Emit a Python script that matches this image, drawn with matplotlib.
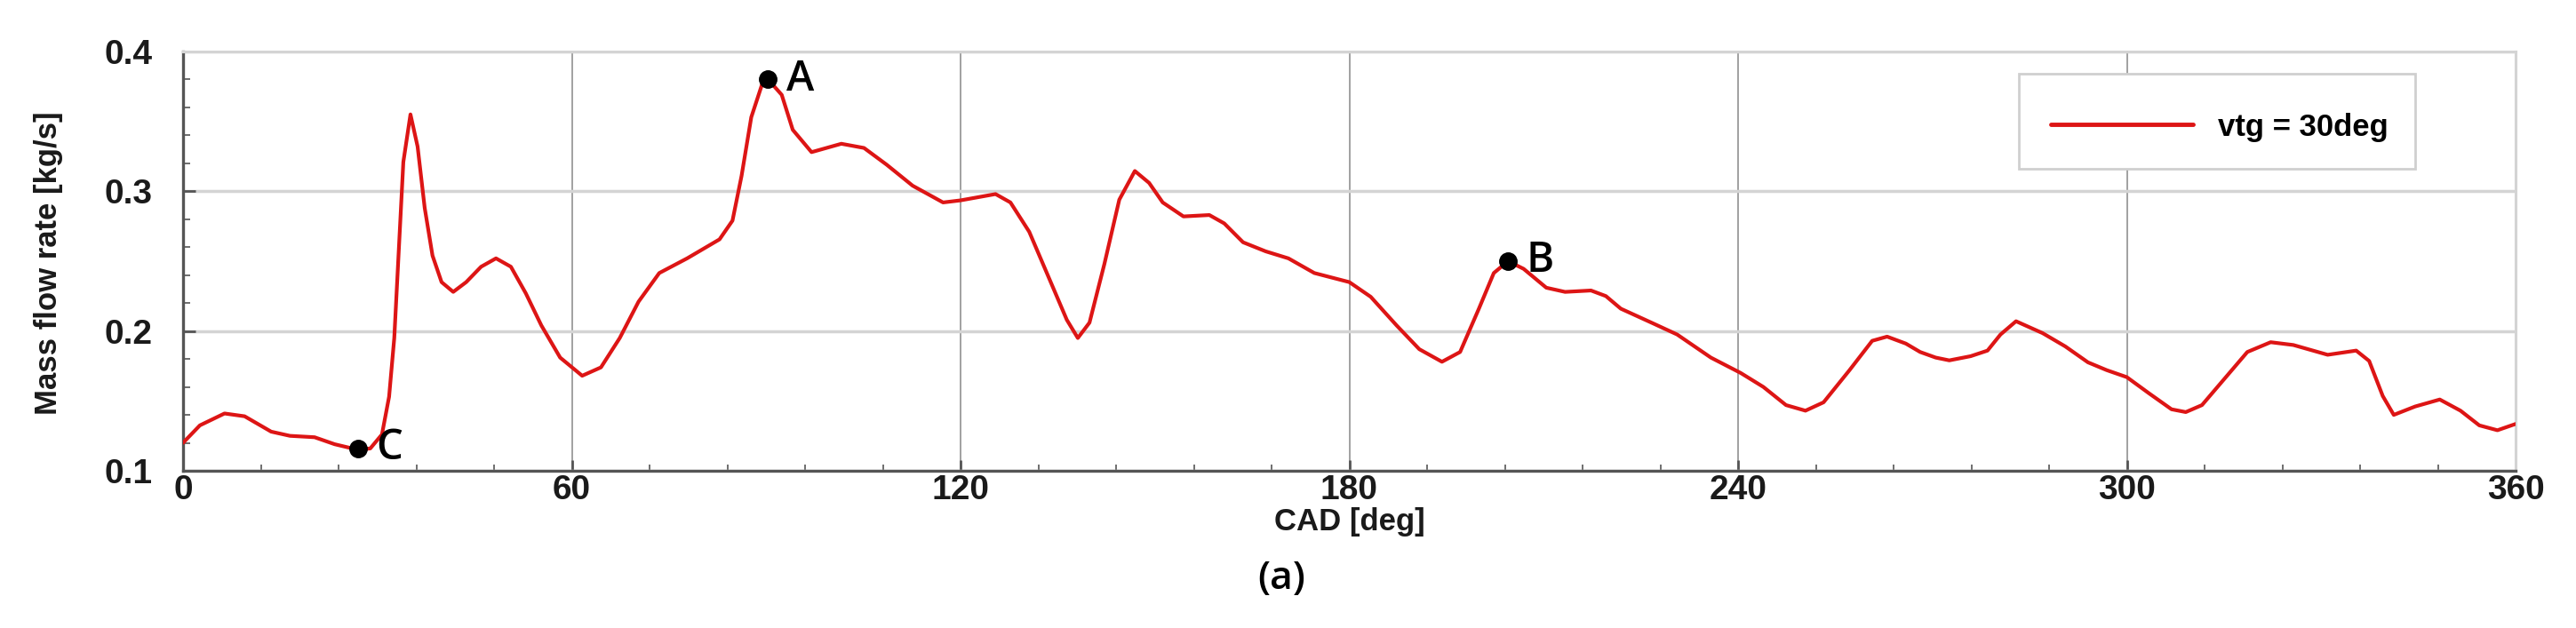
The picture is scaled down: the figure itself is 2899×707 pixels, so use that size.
import matplotlib
matplotlib.use("Agg")
import matplotlib.pyplot as plt
from matplotlib.ticker import MultipleLocator, FormatStrFormatter
from matplotlib.patches import Rectangle

# ---- data ----
cad = [0, 2.6, 6.4, 9.5, 13.6, 16.5, 20.3, 23.4, 27.0, 28.9, 30.7, 31.8, 32.6, 33.3, 34.0,
       35.1, 36.2, 37.3, 38.5, 39.9, 41.7, 43.7, 46.0, 48.3, 50.6, 52.9, 55.3, 58.2, 61.6,
       64.5, 67.4, 70.3, 73.5, 77.8, 82.8, 84.8, 86.2, 87.7, 89.4, 90.3, 92.4, 94.1, 97.0,
       101.6, 105.1, 108.6, 112.6, 117.3, 120.0, 125.4, 127.7, 130.6, 134.1, 136.4, 138.1,
       139.9, 142.2, 144.5, 146.9, 149.1, 151.2, 154.4, 158.4, 160.7, 163.6, 167.1, 170.6,
       174.6, 177.5, 180.0, 183.3, 187.3, 190.8, 194.3, 197.1, 200.0, 202.3, 204.5, 206.9,
       210.4, 213.3, 217.3, 219.6, 221.9, 227.1, 230.6, 235.8, 240.4, 243.9, 247.4, 250.4,
       253.2, 257.2, 260.7, 263.0, 265.9, 268.1, 270.5, 272.6, 275.9, 278.5, 280.5, 282.9,
       287.0, 290.5, 294.0, 296.9, 300.0, 303.4, 306.9, 309.1, 311.6, 315.1, 318.6, 322.2,
       325.7, 331.0, 335.4, 337.4, 339.5, 341.2, 344.5, 348.3, 351.5, 354.4, 357.2, 360.0]
mass_flow = [0.120, 0.1325, 0.141, 0.139, 0.128, 0.125, 0.124, 0.119, 0.115, 0.116, 0.126,
             0.153, 0.195, 0.258, 0.321, 0.355, 0.332, 0.288, 0.254, 0.235, 0.228, 0.235,
             0.246, 0.252, 0.246, 0.227, 0.204, 0.181, 0.168, 0.174, 0.195, 0.221, 0.2415,
             0.252, 0.2656, 0.279, 0.311, 0.353, 0.377, 0.380, 0.369, 0.344, 0.328, 0.334,
             0.331, 0.319, 0.304, 0.292, 0.2935, 0.298, 0.292, 0.271, 0.233, 0.208, 0.195,
             0.206, 0.248, 0.294, 0.3145, 0.306, 0.292, 0.282, 0.283, 0.277, 0.2635, 0.257,
             0.252, 0.2415, 0.238, 0.235, 0.2245, 0.204, 0.187, 0.178, 0.185, 0.216, 0.2415,
             0.250, 0.2445, 0.231, 0.228, 0.229, 0.225, 0.216, 0.205, 0.1975, 0.181, 0.170,
             0.160, 0.147, 0.143, 0.149, 0.172, 0.193, 0.196, 0.191, 0.185, 0.181, 0.179,
             0.182, 0.186, 0.1975, 0.207, 0.1985, 0.189, 0.1776, 0.172, 0.167, 0.1555, 0.144,
             0.142, 0.147, 0.166, 0.185, 0.192, 0.190, 0.183, 0.186, 0.1786, 0.1535, 0.140,
             0.146, 0.151, 0.143, 0.1325, 0.129, 0.1335]
point_labels = ["A", "B", "C"]
point_cad = [90.3, 204.5, 27.0]
point_flow = [0.380, 0.250, 0.116]
series_label = "vtg = 30deg"
x_ticks = [0, 60, 120, 180, 240, 300, 360]
y_ticks = [0.1, 0.2, 0.3, 0.4]

W, H = 2899, 707
fig = plt.figure(figsize=(W / 100, H / 100), dpi=100)
ax = fig.add_axes([206 / W, (H - 530) / H, 2625 / W, 472 / H])

ax.plot(cad, mass_flow, color="#dd1515", lw=3.0, solid_joinstyle="round",
        solid_capstyle="round", zorder=3, label=series_label)
ax.plot(point_cad, point_flow, "o", color="black", ms=14, zorder=4)
for lab, px, py in zip(point_labels, point_cad, point_flow):
    ax.annotate(lab, (px, py), xytext=(15, 0), textcoords="offset points",
                ha="left", va="center", fontsize=34, fontfamily="Open Sans",
                fontweight="semibold", color="black", zorder=5)

ax.set_xlim(0, 360)
ax.set_ylim(0.1, 0.4)
ax.set_xticks(x_ticks)
ax.set_yticks(y_ticks)
ax.xaxis.set_minor_locator(MultipleLocator(12))
ax.yaxis.set_minor_locator(MultipleLocator(0.02))
ax.yaxis.set_major_formatter(FormatStrFormatter("%.1f"))

ax.grid(True, axis="x", which="major", color="#9a9a9a", lw=1.3, zorder=1)
ax.grid(True, axis="y", which="major", color="#d4d4d4", lw=2.5, zorder=1)

for side in ("left", "bottom"):
    ax.spines[side].set_color("#555555")
    ax.spines[side].set_linewidth(2.4)
for side in ("top", "right"):
    ax.spines[side].set_color("#d4d4d4")
    ax.spines[side].set_linewidth(2.2)

ax.tick_params(axis="both", which="both", direction="in", colors="#555555",
               labelcolor="#1a1a1a")
ax.tick_params(axis="x", which="major", length=9, width=2, pad=3)
ax.tick_params(axis="x", which="minor", length=5, width=1.2)
ax.tick_params(axis="y", which="major", length=10, width=2, pad=25)
ax.tick_params(axis="y", which="minor", length=6, width=1.2)
for lbl in ax.get_xticklabels() + ax.get_yticklabels():
    lbl.set_fontfamily("Liberation Sans")
    lbl.set_fontweight("bold")
    lbl.set_fontsize(28)

ax.set_xlabel("CAD [deg]", fontfamily="Liberation Sans", fontweight="bold",
              fontsize=25, color="#1a1a1a")
ax.xaxis.set_label_coords(0.5, (530 - 571) / 472)
ax.xaxis.label.set_va("top")
ax.set_ylabel("Mass flow rate [kg/s]", fontfamily="Liberation Sans", fontweight="bold",
              fontsize=25, color="#1a1a1a")
ax.yaxis.label.set_va("center")
ax.yaxis.set_label_coords((54 - 206) / 2625, 0.496)

# legend frame and entries
ax.add_patch(Rectangle(((2272 - 206) / 2625, (530 - 190) / 472), 446 / 2625, 107 / 472,
                       transform=ax.transAxes, facecolor="white", edgecolor="#cfcfcf",
                       lw=2, zorder=6))
leg = ax.legend(loc="center", bbox_to_anchor=((2498 - 206) / 2625, (530 - 143) / 472),
                frameon=False, handlelength=4.6, handletextpad=0.8,
                prop={"family": "Liberation Sans", "weight": "bold", "size": 25})
leg.set_zorder(7)
for line in leg.get_lines():
    line.set_linewidth(3.5)

fig.text(1442 / W, 1 - 652 / H, "(a)", ha="center", va="center", fontsize=32,
         fontfamily="Open Sans", fontweight="semibold", color="black")

fig.savefig("out.png", dpi=100, facecolor="white")
